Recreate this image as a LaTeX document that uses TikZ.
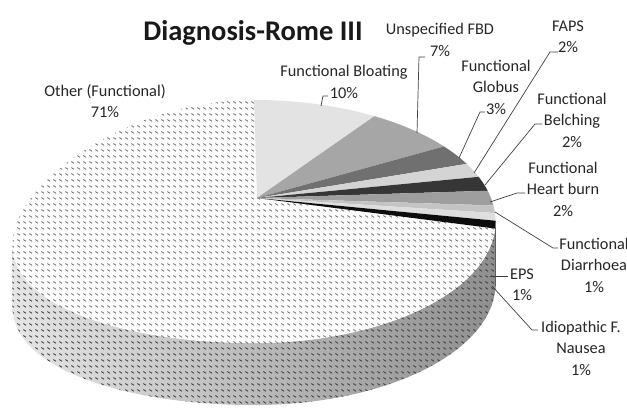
\documentclass[tikz,border=0pt]{standalone}
\usepackage{fontspec}
\setmainfont{Carlito}
\usetikzlibrary{calc,patterns.meta,positioning}
\definecolor{cBloat}{HTML}{E3E3E3}
\definecolor{cFBD}{HTML}{A6A6A6}
\definecolor{cGlobus}{HTML}{707070}
\definecolor{cFAPS}{HTML}{D4D4D4}
\definecolor{cBelch}{HTML}{363636}
\definecolor{cHeart}{HTML}{9E9E9E}
\definecolor{cDiarr}{HTML}{C4C4C4}
\definecolor{cEPS}{HTML}{DEDEDE}
\definecolor{cNausea}{HTML}{0D0D0D}
\tikzdeclarepattern{name=dashdiag, type=uncolored,
  bounding box={(0,0) and (5.6pt,6pt)}, tile size={(5.6pt,6pt)},
  code={\draw[line width=1pt] (0.4pt,4pt) -- (3.2pt,2pt);}}

\begin{document}
\begin{tikzpicture}[x=1pt, y=-1pt,
lbl/.style={align=center, inner sep=0pt, text=black!85, font=\fontsize{16.3}{21.5}\selectfont},
leader/.style={draw=black!75, line width=0.7pt},
declare function={pu(\t)=254+237*cos(\t)/(1+0.1935*sin(\t));
  pv(\t)=198-117*sin(\t)/(1+0.1935*sin(\t))+24*max(0,-cos(\t))^2;}]

\clip (0,0) rectangle (627,411);
\coordinate (apex) at (257,198);

% side of the pie
\path[preaction={left color=gray!20, middle color=gray!55, right color=gray!88},
  pattern=dashdiag, pattern color=black!75]
  plot[domain=-14.4:-168.84, samples=80] ({pu(\x)},{pv(\x)})
  -- plot[domain=-168.84:-14.4, samples=80] ({pu(\x)},{pv(\x)+62}) -- cycle;
\fill[cNausea] plot[domain=-11.16:-14.4, samples=5] ({pu(\x)},{pv(\x)})
  -- plot[domain=-14.4:-11.16, samples=5] ({pu(\x)},{pv(\x)+62}) -- cycle;

% top of the pie
\path[preaction={fill=white}, pattern=dashdiag, pattern color=black!55]
  (apex) -- plot[domain=-14.4:-270, samples=150] ({pu(\x)},{pv(\x)}) -- cycle;
\foreach \a/\b/\c in {90/54/cBloat, 54/28.8/cFBD, 28.8/18/cGlobus, 18/10.8/cFAPS,
  10.8/3.6/cBelch, 3.6/-3.6/cHeart, -3.6/-7.2/cDiarr, -7.2/-10.8/cEPS, -10.8/-14.4/cNausea}
  {\fill[\c] (apex) -- plot[domain=\a:\b, samples=30] ({pu(\x)},{pv(\x)}) -- cycle;}

\node[font=\fontsize{28.5}{30}\selectfont\bfseries, text=black!90] (title) at (253,33) {Diagnosis-Rome III};

\node[lbl] (lOther) at (105,101) {Other (Functional)\\71\%};
\node[lbl] (lBloat) at (344,82) {Functional Bloating\\10\%};
\node[lbl] (lFBD) at (440,40) {Unspecified FBD\\7\%};
\node[lbl] (lGlobus) at (496,87) {Functional\\Globus\\3\%};
\node[lbl] (lFAPS) at (568,37) {FAPS\\2\%};
\node[lbl] (lBelch) at (572,120) {Functional\\Belching\\2\%};
\node[lbl] (lHeart) at (563,189) {Functional\\Heart burn\\2\%};
\node[lbl] (lDiarr) at (594,265) {Functional\\Diarrhoea\\1\%};
\node[lbl] (lEPS) at (522,285) {EPS\\1\%};
\node[lbl] (lNausea) at (581,348) {Idiopathic F.\\Nausea\\1\%};

\coordinate (hBloat) at (328,96);   \coordinate (pBloat) at (321,106);
\coordinate (hFBD) at (425,57);     \coordinate (pFBD) at (417,133);
\coordinate (hGlobus) at (485,112); \coordinate (pGlobus) at (459,158);
\coordinate (hFAPS) at (558,52);    \coordinate (pFAPS) at (474,173);
\coordinate (hBelch) at (542,124);  \coordinate (pBelch) at (485,185);
\coordinate (hHeart) at (525,193);  \coordinate (pHeart) at (490,202);
\coordinate (hDiarr) at (558,248);  \coordinate (pDiarr) at (495,212);
\coordinate (hEPS) at (508,276);    \coordinate (pEPS) at (490,276);
\coordinate (hNausea) at (538,330); \coordinate (pNausea) at (492,286);

\foreach \n/\d in {Bloat/5,FBD/6,Globus/5,FAPS/8,Belch/7,Heart/8,Diarr/5,Nausea/6}
  {\draw[leader] (h\n) -- ++(-\d,0) -- (p\n);}
\draw[leader] (hEPS) -- (pEPS);
\end{tikzpicture}
\end{document}
